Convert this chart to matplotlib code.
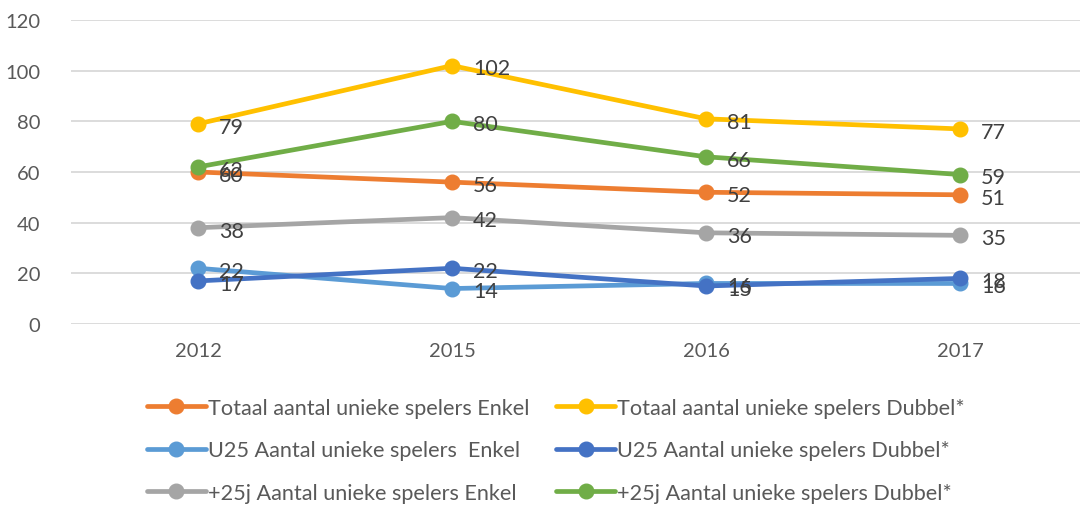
import matplotlib
matplotlib.use("Agg")
import matplotlib.pyplot as plt

years = ["2012", "2015", "2016", "2017"]
series_names = [
    "Totaal aantal unieke spelers Enkel",
    "Totaal aantal unieke spelers Dubbel*",
    "U25 Aantal unieke spelers  Enkel",
    "U25 Aantal unieke spelers Dubbel*",
    "+25j Aantal unieke spelers Enkel",
    "+25j Aantal unieke spelers Dubbel*",
]
totaal_enkel = [60, 56, 52, 51]
totaal_dubbel = [79, 102, 81, 77]
u25_enkel = [22, 14, 16, 16]
u25_dubbel = [17, 22, 15, 18]
plus25_enkel = [38, 42, 36, 35]
plus25_dubbel = [62, 80, 66, 59]
colors = ["#ED7D31", "#FFC000", "#5B9BD5", "#4472C4", "#A5A5A5", "#70AD47"]
y_ticks = [0, 20, 40, 60, 80, 100, 120]

data = [totaal_enkel, totaal_dubbel, u25_enkel, u25_dubbel, plus25_enkel, plus25_dubbel]

plt.rcParams['font.family'] = ['Lato', 'DejaVu Sans']

fig = plt.figure(figsize=(10.8, 5.06), dpi=100)
ax = fig.add_axes([71/1080, 181/506, 1016/1080, 304/506])

x = list(range(len(years)))
handles = []
for name, vals, c in zip(series_names, data, colors):
    h, = ax.plot(x, vals, color=c, lw=3.4, marker='o', markersize=10.5,
                 solid_capstyle='round', label=name, zorder=3)
    handles.append(h)
    for xi, v in zip(x, vals):
        ax.annotate(str(v), (xi, v), xytext=(15, -2), textcoords='offset points',
                    ha='left', va='center', fontsize=15.5, color='#404040', zorder=4)

ax.set_xlim(-0.5, 3.5)
ax.set_ylim(0, 120)
ax.set_yticks(y_ticks)
ax.set_xticks(x)
ax.set_xticklabels(years)
ax.grid(axis='y', color='#D9D9D9', lw=1.3, zorder=0)
for s in ax.spines.values():
    s.set_visible(False)
ax.tick_params(axis='both', length=0, labelsize=14.5, colors='#595959')
ax.tick_params(axis='y', pad=22)
ax.tick_params(axis='x', pad=13)

order = [0, 2, 4, 1, 3, 5]
leg = fig.legend([handles[i] for i in order], [series_names[i] for i in order],
                 ncol=2, loc='upper left', bbox_to_anchor=(147/1080, 1 - 399/506),
                 frameon=False, fontsize=15.6, handlelength=2.7, handletextpad=0.1,
                 labelspacing=1.03, columnspacing=1.25, labelcolor='#595959',
                 borderaxespad=0, borderpad=0)

fig.savefig("out.png", dpi=100)
